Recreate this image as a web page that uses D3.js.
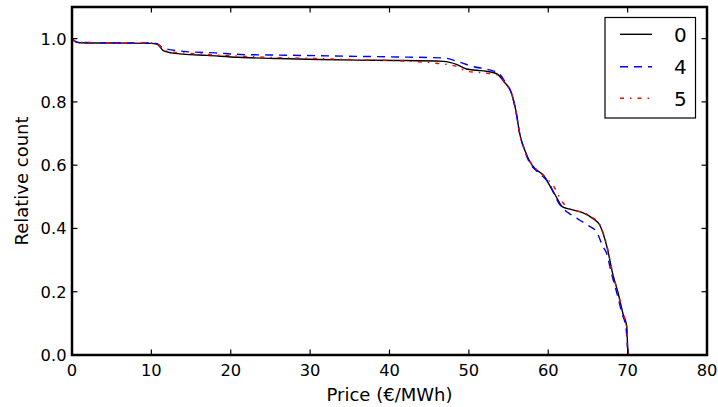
<!DOCTYPE html>
<html><head><meta charset="utf-8">
<script src="https://cdn.jsdelivr.net/npm/d3@7"></script>
<style>
body{margin:0;background:#fff;}
text{font-family:"DejaVu Sans",sans-serif;}
</style></head>
<body><svg id="c" width="718" height="407"></svg>
<script>
const xTicks=[0,10,20,30,40,50,60,70,80];
const yTicks=[0.0,0.2,0.4,0.6,0.8,1.0];
const seriesNames=["0","4","5"];
const x0=[0,0.5,1,5,10,10.7,11.5,12.5,14,17,21,26,31,36,41,46.8,48.5,49.7,51,52.2,53.5,54.5,55.4,56,56.4,57.05,57.7,58.3,59.4,60.4,60.9,61.8,62.7,64.4,65.6,66.5,66.9,67.5,68.1,68.8,69.4,69.9,70.0,70.1];
const y0=[1.0,0.99,0.987,0.986,0.985,0.983,0.962,0.955,0.951,0.947,0.941,0.937,0.934,0.932,0.931,0.928,0.918,0.904,0.9,0.897,0.889,0.862,0.825,0.762,0.70,0.647,0.61,0.59,0.568,0.526,0.505,0.468,0.461,0.449,0.432,0.41,0.385,0.331,0.259,0.196,0.132,0.088,0.025,0];
const x4=[0,0.5,1,5,10,10.7,11.5,12,14.4,18,21.2,26,31.2,36,41,46.8,48.9,50.5,52.6,53.8,54.6,55.4,56,56.4,57.05,57.7,58.4,59.5,60.2,60.8,61.8,62.5,64,65,66.1,66.9,67.3,68.0,68.7,69.3,69.8,70.0,70.2];
const y4=[1.0,0.99,0.988,0.987,0.986,0.984,0.97,0.967,0.959,0.955,0.95,0.948,0.946,0.944,0.942,0.939,0.925,0.912,0.901,0.89,0.862,0.825,0.76,0.70,0.645,0.605,0.585,0.56,0.54,0.505,0.464,0.45,0.426,0.41,0.389,0.342,0.325,0.255,0.19,0.13,0.085,0.02,0];
const x5=[0,0.5,1,5,10,10.7,11.5,12.5,14,17,21,26,31,36,41,45.9,48.5,49.7,52.2,53.5,54.6,55.4,56,56.4,57.05,57.7,58.4,59.5,60.6,61.8,62.7,64.4,65.6,66.5,66.9,67.5,68.1,68.8,69.4,69.9,70.0,70.1];
const y5=[1.0,0.99,0.988,0.987,0.986,0.984,0.965,0.958,0.955,0.95,0.945,0.94,0.937,0.933,0.93,0.922,0.912,0.897,0.891,0.886,0.857,0.825,0.76,0.70,0.647,0.612,0.59,0.565,0.536,0.483,0.462,0.45,0.434,0.412,0.388,0.333,0.26,0.196,0.132,0.088,0.025,0];

const svg=d3.select("#c");
const L=72,R=707,T=7,B=355;
const x=d3.scaleLinear().domain([0,80]).range([L,R]);
const y=d3.scaleLinear().domain([0,1.1]).range([B,T]);
const fs=16.3, lfs=18;

const series=[
 {name:seriesNames[0],xs:x0,ys:y0,color:"#000",dash:null},
 {name:seriesNames[1],xs:x4,ys:y4,color:"#0000ff",dash:"8,6"},
 {name:seriesNames[2],xs:x5,ys:y5,color:"#ff0000",dash:"4,6,1.5,6"}
];
const line=d3.line().x(d=>x(d[0])).y(d=>y(d[1])).curve(d3.curveMonotoneX);
const g=svg.append("g");
g.append("clipPath").attr("id","cp").append("rect").attr("x",L).attr("y",T).attr("width",R-L).attr("height",B-T);
series.forEach(s=>{
  const pts=s.xs.map((v,i)=>[v,s.ys[i]]);
  g.append("path").attr("d",line(pts)).attr("fill","none").attr("stroke",s.color)
   .attr("stroke-width",1.4).attr("stroke-dasharray",s.dash).attr("clip-path","url(#cp)");
});

// frame
svg.append("rect").attr("x",L).attr("y",T).attr("width",R-L).attr("height",B-T)
 .attr("fill","none").attr("stroke","#000").attr("stroke-width",2.5);
const tl=5.5;
xTicks.forEach(t=>{
  const px=x(t);
  svg.append("line").attr("x1",px).attr("x2",px).attr("y1",B).attr("y2",B-tl).attr("stroke","#000").attr("stroke-width",1.2);
  svg.append("line").attr("x1",px).attr("x2",px).attr("y1",T).attr("y2",T+tl).attr("stroke","#000").attr("stroke-width",1.2);
  svg.append("text").attr("x",px).attr("y",376).attr("text-anchor","middle").attr("font-size",fs).text(t);
});
yTicks.forEach(t=>{
  const py=y(t);
  svg.append("line").attr("x1",L).attr("x2",L+tl).attr("y1",py).attr("y2",py).attr("stroke","#000").attr("stroke-width",1.2);
  svg.append("line").attr("x1",R).attr("x2",R-tl).attr("y1",py).attr("y2",py).attr("stroke","#000").attr("stroke-width",1.2);
  svg.append("text").attr("x",66.5).attr("y",py+6).attr("text-anchor","end").attr("font-size",fs).text(t.toFixed(1));
});
svg.append("text").attr("x",(L+R)/2).attr("y",401).attr("text-anchor","middle").attr("font-size",lfs).text("Price (€/MWh)");
svg.append("text").attr("transform","translate(28,"+((T+B)/2)+") rotate(-90)").attr("text-anchor","middle").attr("font-size",lfs).text("Relative count");

// legend
const lg=svg.append("g");
lg.append("rect").attr("x",605).attr("y",17.5).attr("width",90.5).attr("height",100.5).attr("fill","#fff").attr("stroke","#000").attr("stroke-width",1.2);
const rows=[34.3,66.7,98.3];
series.forEach((s,i)=>{
  lg.append("line").attr("x1",620).attr("x2",652).attr("y1",rows[i]).attr("y2",rows[i]).attr("stroke",s.color).attr("stroke-width",1.4).attr("stroke-dasharray",s.dash);
  lg.append("text").attr("x",674).attr("y",rows[i]+7.2).attr("font-size",20).text(s.name);
});
</script></body></html>
